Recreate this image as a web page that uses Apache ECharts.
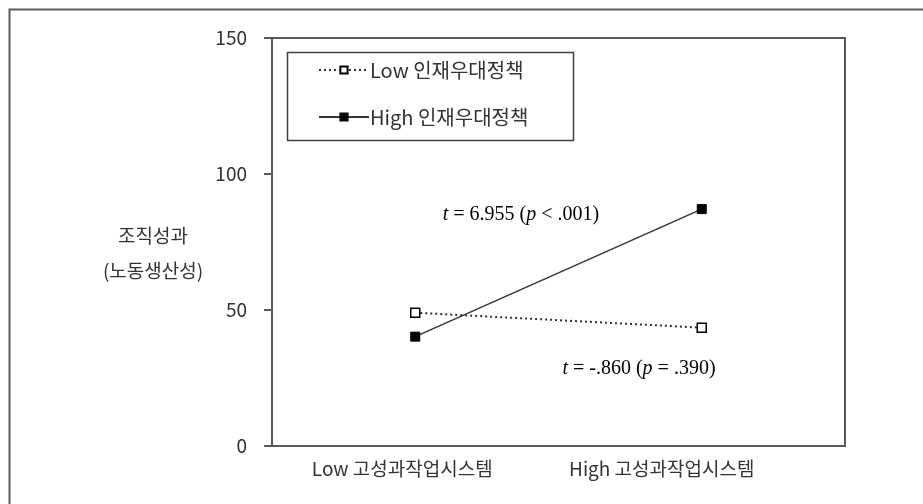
<!DOCTYPE html>
<html><head><meta charset="utf-8">
<script src="https://cdn.jsdelivr.net/npm/echarts@6/dist/echarts.min.js"></script>
<style>html,body{margin:0;padding:0;background:#fff}#c{width:923px;height:504px}</style>
</head><body><div id="c"></div>
<script>
const categories = ['Low 고성과작업시스템', 'High 고성과작업시스템'];
const lowPolicy = [49.0, 43.5];
const highPolicy = [40.2, 87.1];
const seriesNames = ['Low 인재우대정책', 'High 인재우대정책'];
const yTicks = {min: 0, max: 150, interval: 50};
const yTitle = ['조직성과', '(노동생산성)'];

const font = '"Noto Sans CJK KR", "Noto Sans", sans-serif';
const serif = '"Liberation Serif", "Times New Roman", serif';
const labelShiftPad = [26, 80];
const chart = echarts.init(document.getElementById('c'));
chart.setOption({
  animation: false,
  backgroundColor: '#fff',
  grid: {left: 272, right: 78, top: 38, bottom: 58, show: true, borderColor: '#595959', borderWidth: 2},
  xAxis: {
    type: 'category', boundaryGap: true,
    data: categories.map((c, i) => ({value: c, textStyle: {padding: [0, labelShiftPad[i], 0, 0]}})),
    axisLine: {lineStyle: {color: '#595959', width: 2}},
    axisTick: {show: false},
    axisLabel: {color: '#333', fontFamily: font, fontSize: 19, margin: 13}
  },
  yAxis: {
    type: 'value', min: yTicks.min, max: yTicks.max, interval: yTicks.interval,
    splitLine: {show: false},
    axisLine: {show: true, lineStyle: {color: '#595959', width: 2}},
    axisTick: {show: true, inside: false, length: 8, lineStyle: {color: '#595959', width: 2}},
    axisLabel: {color: '#333', fontFamily: font, fontSize: 19, margin: 25}
  },
  legend: {
    orient: 'vertical', left: 318, top: 60,
    padding: 0, itemGap: 27,
    itemWidth: 50, itemHeight: 9,
    textStyle: {color: '#333', fontFamily: font, fontSize: 20, padding: [0, 0, 0, -4]},
    data: seriesNames
  },
  series: [
    {
      name: seriesNames[0], type: 'line', data: lowPolicy,
      symbol: 'rect', symbolSize: 9,
      itemStyle: {color: '#fff', borderColor: '#000', borderWidth: 1.5},
      lineStyle: {color: '#333', width: 2, type: [2, 3]}
    },
    {
      name: seriesNames[1], type: 'line', data: highPolicy,
      symbol: 'rect', symbolSize: 9,
      itemStyle: {color: '#000', borderColor: '#000', borderWidth: 1},
      lineStyle: {color: '#333', width: 1.5, type: 'solid'}
    }
  ],
  graphic: [
    {type: 'rect', shape: {x: 9.5, y: 9.5, width: 1000, height: 1000}, style: {fill: 'none', stroke: '#595959', lineWidth: 2}, silent: true, z: -1},
    {type: 'rect', shape: {x: 287.5, y: 52.5, width: 286, height: 88}, style: {fill: 'none', stroke: '#404040', lineWidth: 1.5}, silent: true},
    {type: 'text', style: {x: 153, y: 236, text: yTitle[0], fill: '#333', font: '19px ' + font, align: 'center', verticalAlign: 'middle'}},
    {type: 'text', style: {x: 153, y: 271, text: yTitle[1], fill: '#333', font: '19px ' + font, align: 'center', verticalAlign: 'middle'}},
    {type: 'text', style: {x: 521, y: 215, align: 'center', verticalAlign: 'middle',
      text: '{i|t} = 6.955 ({i|p} < .001)',
      font: '20px ' + serif, fill: '#000',
      rich: {i: {fontStyle: 'italic', fontFamily: serif, fontSize: 20, fill: '#000'}}}},
    {type: 'text', style: {x: 639, y: 369, align: 'center', verticalAlign: 'middle',
      text: '{i|t} = -.860 ({i|p} = .390)',
      font: '20px ' + serif, fill: '#000',
      rich: {i: {fontStyle: 'italic', fontFamily: serif, fontSize: 20, fill: '#000'}}}}
  ]
});
</script></body></html>
